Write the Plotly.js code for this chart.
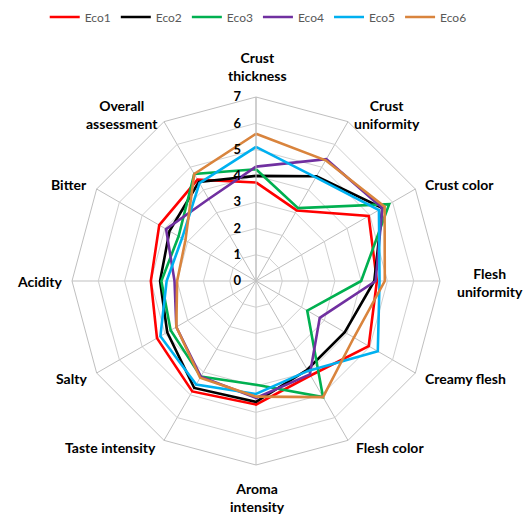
<!DOCTYPE html>
<html>
<head>
<meta charset="utf-8">
<script src="https://cdn.plot.ly/plotly-3.0.1.min.js"></script>
<style>html,body{margin:0;padding:0;background:#fff}#chart{width:527px;height:515px}</style>
</head>
<body>
<div id="chart"></div>
<script>
var categories = ["Crust<br>thickness", "Crust<br>uniformity", "Crust color", "Flesh<br>uniformity", "Creamy flesh", "Flesh color", "Aroma<br>intensity", "Taste intensity", "Salty", "Acidity", "Bitter", "Overall<br>assessment"];
var seriesNames = ["Eco1", "Eco2", "Eco3", "Eco4", "Eco5", "Eco6"];
var eco1 = [3.75, 3.1, 4.95, 4.6, 4.95, 4.15, 4.7, 4.85, 4.35, 4.0, 4.25, 4.45];
var eco2 = [4.0, 4.6, 5.55, 4.5, 3.9, 3.9, 4.6, 4.7, 3.9, 3.65, 3.8, 4.35];
var eco3 = [4.25, 3.2, 5.85, 4.0, 2.25, 5.1, 3.95, 4.2, 3.75, 3.6, 3.4, 4.7];
var eco4 = [4.35, 5.35, 5.55, 4.55, 2.8, 4.1, 4.45, 4.2, 3.5, 3.1, 3.95, 3.6];
var eco5 = [5.1, 4.55, 5.4, 4.7, 5.35, 3.95, 4.3, 4.55, 4.2, 3.4, 3.25, 4.3];
var eco6 = [5.6, 5.3, 5.65, 4.9, 4.3, 5.1, 4.4, 4.25, 3.5, 3.0, 3.1, 4.7];
var radialTicks = [0, 1, 2, 3, 4, 5, 6, 7];
var colors = ["#FF0000", "#000000", "#00B050", "#7030A0", "#00B0F0", "#D9843D"];

// category label placement (layout only, pixel positions in the 527x515 page)
var labelPx = [[257, 66, "center"], [352, 114, "left"], [423, 184, "left"], [455, 282, "left"],
               [423, 378, "left"], [354, 447, "left"], [257, 497, "center"], [158, 447, "right"],
               [89, 378, "right"], [65, 281, "right"], [89, 184, "right"], [160, 114, "right"]];

var allSeries = [eco1, eco2, eco3, eco4, eco5, eco6];
var traces = allSeries.map(function (vals, i) {
  return {
    type: "scatterpolar",
    mode: "lines",
    name: seriesNames[i],
    r: vals.concat([vals[0]]),
    theta: categories.concat([categories[0]]),
    line: { color: colors[i], width: 2.6 },
    hoverinfo: "skip"
  };
});

var annotations = categories.map(function (c, i) {
  var p = labelPx[i];
  return {
    text: c, showarrow: false,
    xref: "paper", yref: "paper",
    x: p[0] / 527, y: 1 - p[1] / 515,
    xanchor: p[2], yanchor: "middle", align: "center",
    font: { size: 14, color: "#000000", weight: "bold" }
  };
});

var layout = {
  width: 527, height: 515,
  margin: { l: 0, r: 0, t: 0, b: 0 },
  paper_bgcolor: "#ffffff",
  plot_bgcolor: "#ffffff",
  font: { family: "Lato, 'Liberation Sans', sans-serif", color: "#000000", size: 14 },
  showlegend: true,
  legend: {
    orientation: "h",
    x: 0.49, xanchor: "center",
    y: 1 - 17 / 515, yanchor: "middle",
    font: { size: 12, color: "#595959" },
    itemwidth: 30,
    tracegroupgap: 0
  },
  annotations: annotations,
  polar: {
    domain: { x: [72 / 527, 440 / 527], y: [50 / 515, 418 / 515] },
    bgcolor: "#ffffff",
    gridshape: "linear",
    angularaxis: {
      type: "category",
      categoryarray: categories,
      rotation: 90,
      direction: "clockwise",
      showline: true,
      linecolor: "#bfbfbf",
      linewidth: 1,
      gridcolor: "#bfbfbf",
      gridwidth: 1,
      ticks: "",
      showticklabels: false
    },
    radialaxis: {
      range: [0, 7],
      tickvals: radialTicks,
      ticktext: radialTicks.map(String),
      angle: 90,
      side: "counterclockwise",
      showline: true,
      linecolor: "#bfbfbf",
      gridcolor: "#d0d0d0",
      gridwidth: 1,
      ticks: "outside",
      ticklen: 10,
      tickcolor: "rgba(0,0,0,0)",
      tickangle: 90,
      tickfont: { size: 13, color: "#000000", weight: "bold" }
    }
  }
};

Plotly.newPlot("chart", traces, layout, { displayModeBar: false, staticPlot: true });
</script>
</body>
</html>
